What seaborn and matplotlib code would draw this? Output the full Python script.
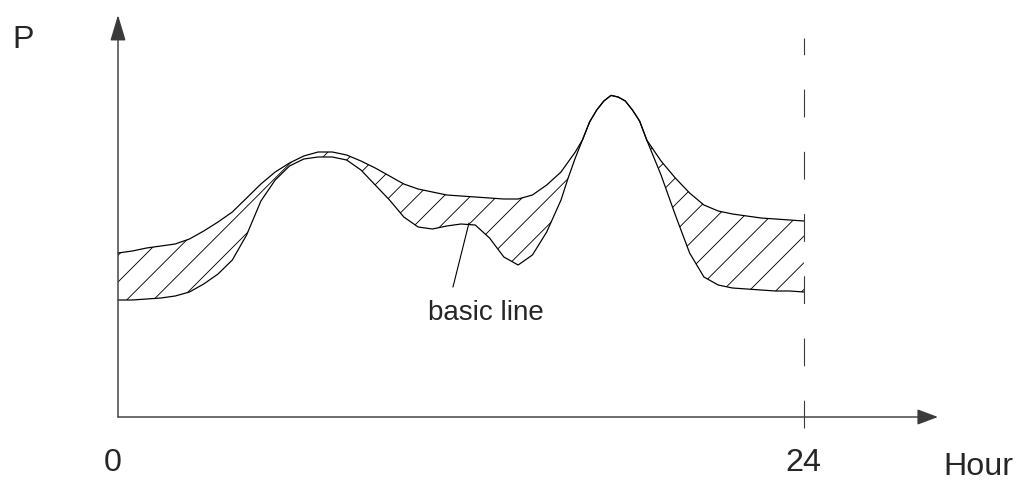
import matplotlib
matplotlib.use("Agg")
import matplotlib.pyplot as plt
import seaborn as sns
import pandas as pd

# ---- data ----
hours = [0, 0.5, 1, 1.5, 2, 2.5, 3, 3.5, 4, 4.5, 5, 5.5, 6, 6.5, 7, 7.5, 8, 8.5,
         9, 9.5, 10, 10.5, 11, 11.5, 12, 12.5, 13, 13.5, 14, 14.5, 15, 15.5,
         15.75, 16, 16.25, 16.5, 16.75, 17, 17.25, 17.5, 17.75, 18, 18.25, 18.5,
         19, 19.5, 20, 20.5, 21, 21.5, 22, 22.5, 23, 23.5, 24]

shifted_load = [41.0, 41.5, 42.25, 42.75, 43.25, 44.5, 46.5, 48.75, 51.25, 54.75,
                58.25, 61.25, 63.5, 65.25, 66.25, 66.25, 65.5, 64.0, 62.25, 60.25,
                58.25, 57.0, 56.25, 55.5, 55.25, 55.0, 54.75, 54.5, 54.5, 55.5,
                58.0, 61.25, 63.75, 66.25, 69.25, 73.75, 76.75, 79.0, 80.4, 80.0,
                79.0, 76.75, 74.0, 69.25, 64.0, 59.75, 56.0, 53.0, 51.5, 50.75,
                50.25, 49.75, 49.5, 49.25, 49.0]

basic_line = [29.25, 29.25, 29.5, 29.75, 30.25, 31.25, 33.25, 35.75, 39.25, 45.5,
              54.0, 59.25, 62.75, 64.5, 65.0, 65.0, 64.25, 61.75, 58.0, 54.25,
              50.0, 47.5, 47.0, 47.75, 48.25, 48.0, 44.75, 40.0, 38.0, 40.5,
              46.25, 54.25, 59.75, 64.75, 69.25, 73.75, 76.75, 79.0, 80.4, 80.0,
              79.0, 76.75, 74.0, 69.25, 60.5, 50.5, 41.0, 35.0, 33.0, 32.25,
              32.0, 31.75, 31.5, 31.5, 31.25]

x_tick_labels = ["0", "24"]
axis_labels = ["P", "Hour"]
annotation_text = "basic line"

df = pd.DataFrame({"hour": hours, "shifted": shifted_load, "basic": basic_line})

# ---- figure ----
sns.set_style("white")
plt.rcParams["font.family"] = ["Liberation Sans", "DejaVu Sans"]
plt.rcParams["hatch.linewidth"] = 0.8

DPI = 80
fig = plt.figure(figsize=(1031 / DPI, 480 / DPI), dpi=DPI)
ax = fig.add_axes([0, 0, 1, 1])
ax.set_xlim(-4.129, 31.945)
ax.set_ylim(-15.75, 104.25)
ax.axis("off")

# hatched area between the curves
ax.fill_between(df["hour"], df["basic"], df["shifted"], facecolor="none",
                edgecolor="black", hatch="/", linewidth=0)

sns.lineplot(data=df, x="hour", y="shifted", color="black", lw=1.1, ax=ax)
sns.lineplot(data=df, x="hour", y="basic", color="black", lw=1.1, ax=ax)

# axes with arrows
axis_color = "#3a3a3a"
ax.annotate("", xy=(28.69, 0), xytext=(0, 0),
            arrowprops=dict(arrowstyle="-|>,head_length=0.8,head_width=0.3",
                            mutation_scale=20, color=axis_color, lw=1.3,
                            shrinkA=0, shrinkB=0))
ax.annotate("", xy=(0, 100.5), xytext=(0, 0),
            arrowprops=dict(arrowstyle="-|>,head_length=1.0,head_width=0.3",
                            mutation_scale=20, color=axis_color, lw=1.3,
                            shrinkA=0, shrinkB=0))

# dashed end-of-day line
ax.vlines(24, -2.75, 94.75, colors=axis_color, lw=1.0, linestyles=(0, (25, 31)))

# leader line for "basic line"
ax.annotate("", xy=(12.28, 48.5), xytext=(11.72, 32.5),
            arrowprops=dict(arrowstyle="-", color="black", lw=1.0,
                            shrinkA=0, shrinkB=0))

# texts
fs = 29
ax.text(-3.32, 94.25, axis_labels[0], fontsize=fs, ha="center", va="center")
ax.text(-0.175, -11.5, x_tick_labels[0], fontsize=fs, ha="center", va="center")
ax.text(23.97, -11.5, x_tick_labels[1], fontsize=fs, ha="center", va="center")
ax.text(30.09, -12.5, axis_labels[1], fontsize=fs, ha="center", va="center")
ax.text(12.88, 24.25, annotation_text, fontsize=25, ha="center", va="baseline")

fig.savefig("out.png", dpi=DPI)
